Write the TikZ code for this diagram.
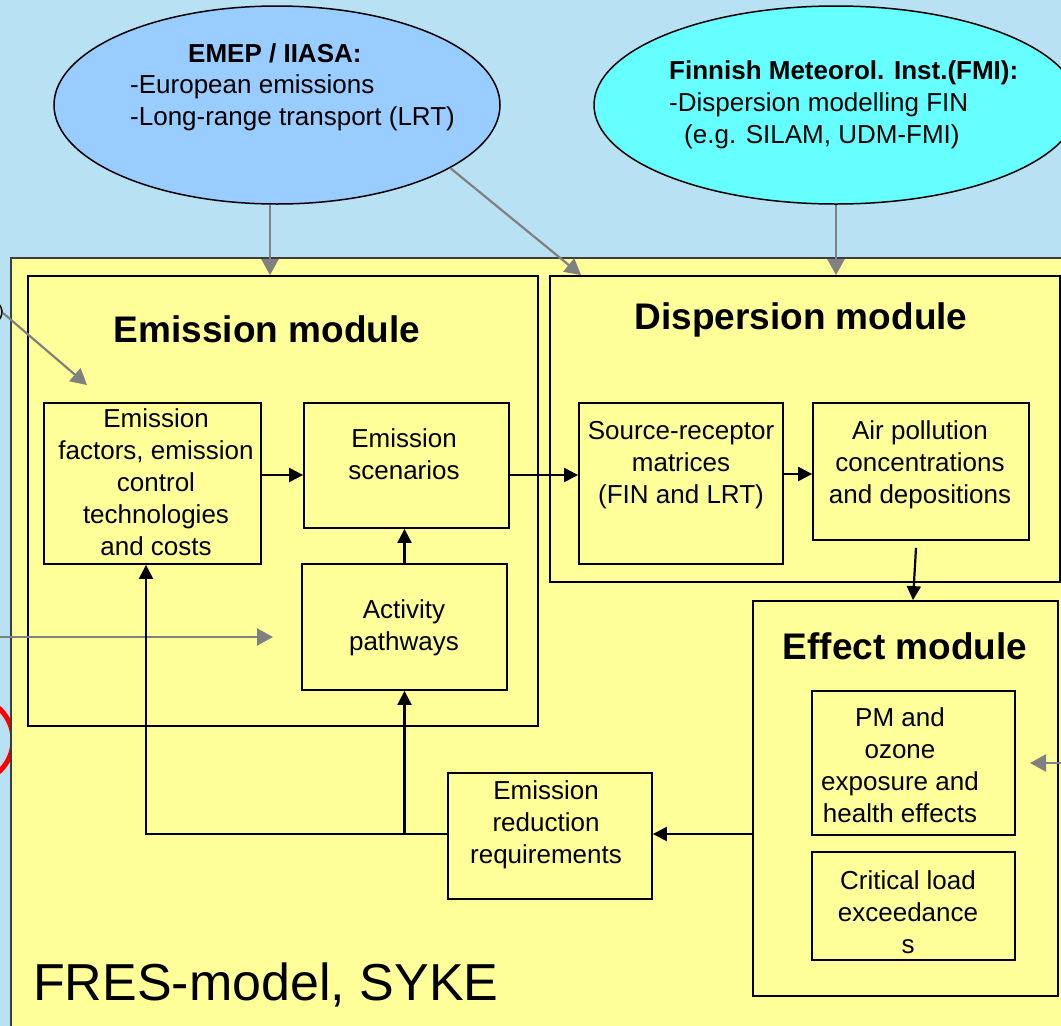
\documentclass[tikz,border=0pt]{standalone}
\usepackage{fontspec}
\setmainfont{Liberation Sans}
\usetikzlibrary{arrows.meta,calc,shapes.geometric}
\definecolor{bgblue}{RGB}{185,225,244}
\definecolor{pyellow}{RGB}{255,255,153}
\definecolor{eblue}{RGB}{153,204,255}
\definecolor{ecyan}{RGB}{102,255,255}
\definecolor{agray}{RGB}{128,128,128}
\definecolor{rimgray}{RGB}{60,60,60}
\begin{document}
\begin{tikzpicture}[x=1pt,y=-1pt,
  modbox/.style={draw=black,line width=1.8pt,fill=pyellow,inner sep=0pt},
  ibox/.style={draw=black,line width=1.8pt,fill=pyellow,inner sep=0pt},
  oval/.style={ellipse,draw=black,line width=1.5pt,inner sep=0pt,minimum height=198pt},
  txt/.style={align=center,inner sep=0pt,font=\fontsize{26}{32}\selectfont},
  etxt/.style={anchor=base west,inner sep=0pt,font=\fontsize{26}{32}\selectfont},
  ebold/.style={anchor=base west,inner sep=0pt,font=\fontsize{26}{32}\selectfont\bfseries},
  title/.style={anchor=base,inner sep=0pt,font=\fontsize{37}{44}\selectfont\bfseries},
  blk/.style={draw=black,line width=2.2pt,-{Triangle[length=14pt,width=14pt]}},
  gryarrow/.style={draw=agray,line width=2.2pt,-{Triangle[length=16pt,width=17pt]}},
]
\useasboundingbox (0,0) rectangle (1061,1026);
\clip (0,0) rectangle (1061,1026);
\fill[bgblue] (0,0) rectangle (1061,1026);

% off-canvas fragments at left
\node[ellipse,draw=black,line width=1.5pt,minimum width=120pt,minimum height=50pt,inner sep=0pt] (other) at (-58,312) {};
\draw[red,line width=5pt] (-30,740) circle[radius=43];

% main FRES frame
\node[draw=rimgray,line width=1.5pt,fill=pyellow,inner sep=0pt,minimum width=1070pt,minimum height=790pt] (fres) at (546,653) {};

% ellipses
\node[oval,fill=eblue,minimum width=446pt] (ell1) at (277,105) {};
\node[oval,fill=ecyan,minimum width=484pt] (ell2) at (836,105) {};
\node[ebold] (e1a) at (188,62) {EMEP / IIASA:};
\node[etxt] (e1b) at (130,93) {-European emissions};
\node[etxt] (e1c) at (130,125) {-Long-range transport (LRT)};
\node[ebold] (e2a) at (669,79) {Finnish Meteorol. Inst.(FMI):};
\node[etxt] (e2b) at (669,111) {-Dispersion modelling FIN};
\node[etxt] (e2c) at (684,143) {(e.g. SILAM, UDM-FMI)};

% modules
\node[modbox,minimum width=510pt,minimum height=450pt] (emod) at (283,501) {};
\node[modbox,minimum width=510pt,minimum height=306pt] (dmod) at (805,429) {};
\node[modbox,minimum width=305pt,minimum height=395pt] (effmod) at (905.5,798.5) {};
\node[title] (emodt) at (267,342) {Emission module};
\node[title] (dmodt) at (801,329) {Dispersion module};
\node[title] (effmodt) at (905,659) {Effect module};

% inner boxes
\node[ibox,minimum width=217pt,minimum height=161pt] (ef) at (152.5,483.5) {};
\node[ibox,minimum width=205pt,minimum height=125pt] (es) at (406.5,465.5) {};
\node[ibox,minimum width=205pt,minimum height=126pt] (act) at (404.5,627) {};
\node[ibox,minimum width=204pt,minimum height=161pt] (sr) at (681,483.5) {};
\node[ibox,minimum width=216pt,minimum height=137pt] (air) at (921,471.5) {};
\node[ibox,minimum width=203pt,minimum height=144pt] (pm) at (913.5,763) {};
\node[ibox,minimum width=203pt,minimum height=108pt] (crit) at (913.5,906) {};
\node[ibox,minimum width=204pt,minimum height=126pt] (err) at (550,836) {};

\node[txt] (eft) at (156,482) {Emission\\factors, emission\\control\\technologies\\and costs};
\node[txt] (est) at (404,454) {Emission\\scenarios};
\node[txt] (actt) at (404,628) {Activity\\pathways};
\node[txt] (srt) at (681,465) {Source-receptor\\matrices\\(FIN and LRT)};
\node[txt] (airt) at (920,465) {Air pollution\\concentrations\\and depositions};
\node[txt] (pmt) at (900,765) {PM and\\ozone\\exposure and\\health effects};
\node[txt] (critt) at (908,912) {Critical load\\exceedance\\s};
\node[txt] (errt) at (546,825) {Emission\\reduction\\requirements};

\node[anchor=base west,inner sep=0pt,font=\fontsize{52}{60}\selectfont] (fresl) at (33,1000) {FRES-model, SYKE};

% free ends of grey connectors
\coordinate (lin1) at (3,313);
\coordinate (lin1e) at (87,385);
\coordinate (lin2) at (-5,637);
\coordinate (lin2e) at (273,637);
\coordinate (rin) at (1066,763);
\coordinate (rine) at (1030,763);

% grey arrows
\draw[gryarrow] ([xshift=-7pt]ell1.south) -- ([xshift=-7pt]ell1.south |- emod.north);
\draw[gryarrow] (ell1.-20.8) -- ([xshift=32pt]dmod.north west);
\draw[gryarrow] (ell2.south) -- (ell2.south |- dmod.north);
\draw[gryarrow] (lin1) -- (lin1e);
\draw[gryarrow] (lin2) -- (lin2e);
\draw[gryarrow] (rin) -- (rine);

% black arrows
\draw[blk] (ef.east |- 0,475) -- (es.west |- 0,475);
\draw[blk] (es.east |- 0,475) -- (sr.west |- 0,475);
\draw[blk] (sr.east |- 0,474) -- (air.west |- 0,474);
\draw[blk] ($(air.south)+(-5,7)$) -- (913,0 |- effmod.north);
\draw[blk] (act.north) -- (act.north |- es.south);
\draw[blk] (effmod.west |- 0,834) -- (err.east |- 0,834);
\draw[blk] (err.west |- 0,834) -| (146,0 |- ef.south);
\draw[blk] (act.south |- 0,834) -- (act.south);
\end{tikzpicture}
\end{document}
